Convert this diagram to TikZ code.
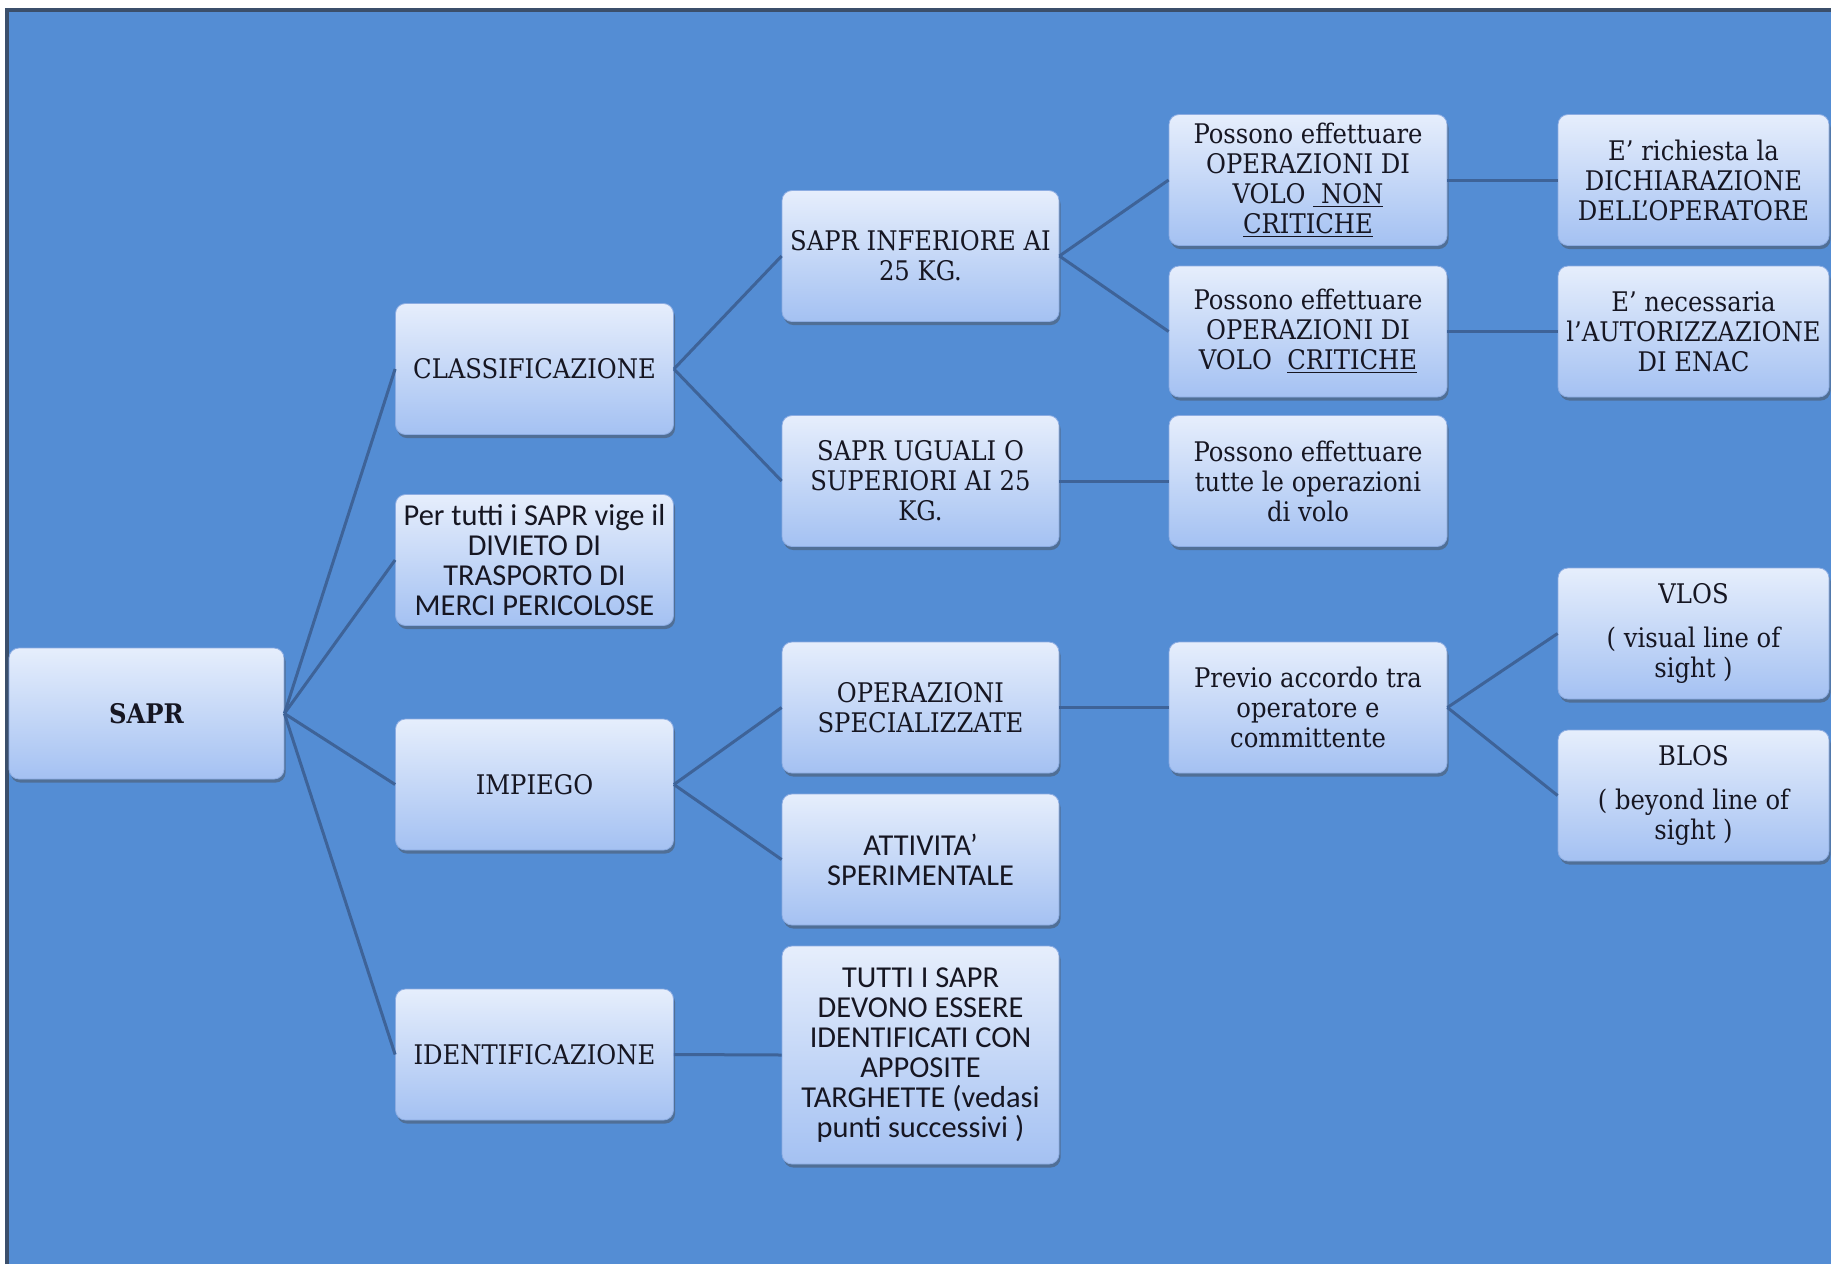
\documentclass[tikz,border=0pt]{standalone}
\usepackage{fontspec}
\setmainfont{DejaVu Serif Condensed}
\newfontfamily\calibfont{Carlito}
\usetikzlibrary{shadows}

\definecolor{sfondo}{RGB}{84,141,212}
\definecolor{cornice}{RGB}{59,79,107}
\definecolor{linea}{RGB}{62,99,152}
\definecolor{boxtop}{RGB}{230,238,252}
\definecolor{boxbot}{RGB}{164,193,242}
\definecolor{boxline}{RGB}{140,172,226}
\definecolor{testo}{RGB}{22,22,34}

\tikzset{
  box/.style={rectangle, rounded corners=5pt, top color=boxtop, bottom color=boxbot,
    draw=boxline, line width=0.4pt, text=testo, align=center, inner sep=2pt,
    minimum width=139pt, minimum height=65.5pt,
    font=\fontsize{13.5}{15}\selectfont,
    drop shadow={shadow xshift=0.8pt, shadow yshift=-1.8pt, opacity=0.45, fill=black!70}},
  sansbox/.style={box, font=\calibfont\fontsize{15.2}{15}\selectfont},
  link/.style={draw=linea, line width=1.5pt}
}

\begin{document}
\begin{tikzpicture}[x=0.5pt,y=-0.5pt]
  \useasboundingbox (0,0) rectangle (1831,1264);
  % sfondo
  \fill[white] (0,0) rectangle (1831,1264);
  \fill[sfondo] (7,10) rectangle (1831,1264);
  \draw[cornice, line width=2pt] (7,1264) -- (7,10) -- (1831,10);

  % radice
  \node[box, minimum width=137.5pt, font=\bfseries\fontsize{13.5}{15}\selectfont] (sapr) at (146.5,713.5) {SAPR};

  % primo livello
  \node[box] (classif) at (534.5,369) {CLASSIFICAZIONE};
  \node[sansbox] (divieto) at (534.5,560) {Per tutti i SAPR vige il\\ DIVIETO DI\\ TRASPORTO DI\\ MERCI PERICOLOSE};
  \node[box] (impiego) at (534.5,784.5) {IMPIEGO};
  \node[box] (ident) at (534.5,1054.5) {IDENTIFICAZIONE};

  % secondo livello
  \node[box, minimum width=138.5pt] (inf25) at (920.5,256) {SAPR INFERIORE AI\\ 25 KG.};
  \node[box, minimum width=138.5pt] (sup25) at (920.5,481) {SAPR UGUALI O\\ SUPERIORI AI 25\\ KG.};
  \node[box, minimum width=138.5pt] (opspec) at (920.5,707.5) {OPERAZIONI\\ SPECIALIZZATE};
  \node[sansbox, minimum width=138.5pt] (attiv) at (920.5,859.5) {ATTIVITA’\\ SPERIMENTALE};
  \node[sansbox, minimum width=138.5pt, minimum height=109pt] (targhe) at (920.5,1055)
    {TUTTI I SAPR\\ DEVONO ESSERE\\ IDENTIFICATI CON\\ APPOSITE\\ TARGHETTE (vedasi\\ punti successivi )};

  % terzo livello
  \node[box] (noncrit) at (1308,180) {Possono effettuare\\ OPERAZIONI DI\\ VOLO \underline{\ NON}\\ \underline{CRITICHE}};
  \node[box] (crit) at (1308,331.5) {Possono effettuare\\ OPERAZIONI DI\\ VOLO\ \ \underline{CRITICHE}};
  \node[box] (tutteop) at (1308,481) {Possono effettuare\\ tutte le operazioni\\ di volo};
  \node[box] (previo) at (1308,707.5) {Previo accordo tra\\ operatore e\\ committente};

  % quarto livello
  \node[box, minimum width=135.5pt] (dichiar) at (1693.5,180) {E’ richiesta la\\ DICHIARAZIONE\\ DELL’OPERATORE};
  \node[box, minimum width=135.5pt] (autoriz) at (1693.5,331.5) {E’ necessaria\\ l’AUTORIZZAZIONE\\ DI ENAC};
  \node[box, minimum width=135.5pt] (vlos) at (1693.5,633.5) {VLOS\\[7pt] ( visual line of\\ sight )};
  \node[box, minimum width=135.5pt] (blos) at (1693.5,795.5) {BLOS\\[7pt] ( beyond line of\\ sight )};

  % collegamenti
  \foreach \a/\b in {sapr/classif, sapr/divieto, sapr/impiego, sapr/ident,
      classif/inf25, classif/sup25, impiego/opspec, impiego/attiv, ident/targhe,
      inf25/noncrit, inf25/crit, sup25/tutteop, opspec/previo,
      noncrit/dichiar, crit/autoriz, previo/vlos, previo/blos}
    \draw[link] (\a.east) -- (\b.west);
\end{tikzpicture}
\end{document}
